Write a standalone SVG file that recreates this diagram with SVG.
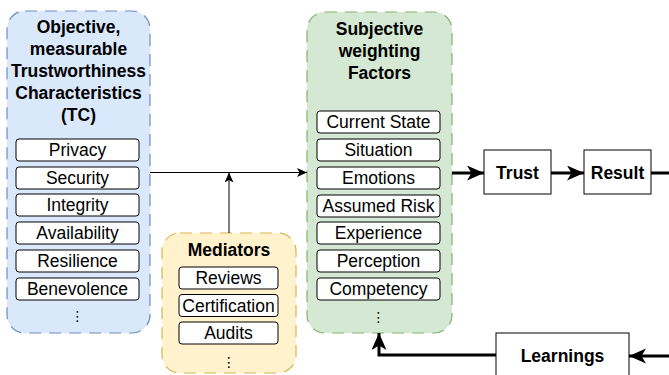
<svg xmlns="http://www.w3.org/2000/svg" width="669" height="375" viewBox="0 0 669 375">
<style>
text{font-family:"Liberation Sans",Arial,Helvetica,sans-serif;font-size:17.5px;fill:#000;text-anchor:middle}
.b{font-weight:bold}
.item{fill:#fff;stroke:#000;stroke-width:1}
.box{fill:#fff;stroke:#000;stroke-width:1}
.grp{stroke-width:1.2;stroke-dasharray:12 8}
.thin{fill:none;stroke:#000;stroke-width:1}
.thick{fill:none;stroke:#000;stroke-width:3}
.dots{font-family:"DejaVu Sans",sans-serif;font-size:14px}
</style>
<defs>
<marker id="ah" markerUnits="userSpaceOnUse" markerWidth="18" markerHeight="16" refX="17" refY="7.5" orient="auto">
<path d="M0,0 L17,7.5 L0,15 L4.5,7.5 Z" fill="#000"/>
</marker>
<marker id="as" markerUnits="userSpaceOnUse" markerWidth="11" markerHeight="10" refX="10" refY="4.5" orient="auto">
<path d="M0,0 L10,4.5 L0,9 L2.5,4.5 Z" fill="#000"/>
</marker>
</defs>
<g id="tc">
<rect class="grp" x="7" y="11" width="143" height="322" rx="18" fill="#dae8fc" stroke="#6c8ebf"/>
<text class="b" x="78.5" y="33">Objective,</text>
<text class="b" x="78.5" y="55">measurable</text>
<text class="b" x="78.5" y="77">Trustworthiness</text>
<text class="b" x="78.5" y="99">Characteristics</text>
<text class="b" x="78.5" y="121">(TC)</text>
<rect class="item" x="16" y="139" width="123" height="22" rx="3"/><text x="77.5" y="156">Privacy</text>
<rect class="item" x="16" y="167" width="123" height="22" rx="3"/><text x="77.5" y="184">Security</text>
<rect class="item" x="16" y="194" width="123" height="22" rx="3"/><text x="77.5" y="211">Integrity</text>
<rect class="item" x="16" y="222" width="123" height="22" rx="3"/><text x="77.5" y="239">Availability</text>
<rect class="item" x="16" y="250" width="123" height="22" rx="3"/><text x="77.5" y="267">Resilience</text>
<rect class="item" x="16" y="278" width="123" height="22" rx="3"/><text x="77.5" y="295">Benevolence</text>
<text class="dots" x="77.5" y="321">⋮</text>
</g>
<g id="mediators">
<rect class="grp" x="162" y="233" width="134" height="140" rx="18" fill="#fff2cc" stroke="#d6b656"/>
<text class="b" x="229" y="256">Mediators</text>
<rect class="item" x="179" y="267" width="99" height="22" rx="3"/><text x="228.5" y="284">Reviews</text>
<rect class="item" x="179" y="294.5" width="99" height="22" rx="3"/><text x="228.5" y="311.5">Certification</text>
<rect class="item" x="179" y="322" width="99" height="22" rx="3"/><text x="228.5" y="339">Audits</text>
<text class="dots" x="229" y="367">⋮</text>
</g>
<g id="subjective">
<rect class="grp" x="307" y="12" width="145" height="321" rx="18" fill="#d5e8d4" stroke="#82b366"/>
<text class="b" x="379.5" y="35">Subjective</text>
<text class="b" x="379.5" y="57">weighting</text>
<text class="b" x="379.5" y="79">Factors</text>
<rect class="item" x="317" y="111" width="123" height="22" rx="3"/><text x="378.5" y="128">Current State</text>
<rect class="item" x="317" y="139" width="123" height="22" rx="3"/><text x="378.5" y="156">Situation</text>
<rect class="item" x="317" y="167" width="123" height="22" rx="3"/><text x="378.5" y="184">Emotions</text>
<rect class="item" x="317" y="195" width="123" height="22" rx="3"/><text x="378.5" y="212">Assumed Risk</text>
<rect class="item" x="317" y="222" width="123" height="22" rx="3"/><text x="378.5" y="239">Experience</text>
<rect class="item" x="317" y="250" width="123" height="22" rx="3"/><text x="378.5" y="267">Perception</text>
<rect class="item" x="317" y="278" width="123" height="22" rx="3"/><text x="378.5" y="295">Competency</text>
<text class="dots" x="378.5" y="322">⋮</text>
</g>
<g id="trust">
<rect class="box" x="484" y="150" width="67" height="44"/>
<text class="b" x="517.5" y="179">Trust</text>
</g>
<g id="result">
<rect class="box" x="584" y="150" width="67" height="44"/>
<text class="b" x="617.5" y="179">Result</text>
</g>
<g id="learnings">
<rect class="box" x="496" y="333" width="133" height="60"/>
<text class="b" x="562.5" y="362">Learnings</text>
</g>
<g id="connectors">
<path class="thin" d="M150,172.5 H307" marker-end="url(#as)"/>
<path class="thin" d="M229,233 V172.5" marker-end="url(#as)"/>
<path class="thick" d="M452,173 H484" marker-end="url(#ah)"/>
<path class="thick" d="M551,173 H584" marker-end="url(#ah)"/>
<path class="thick" d="M651,173 H669"/>
<path class="thick" d="M669,356 H629" marker-end="url(#ah)"/>
<path class="thick" d="M496,355 H379 V333" marker-end="url(#ah)"/>
</g>
</svg>
